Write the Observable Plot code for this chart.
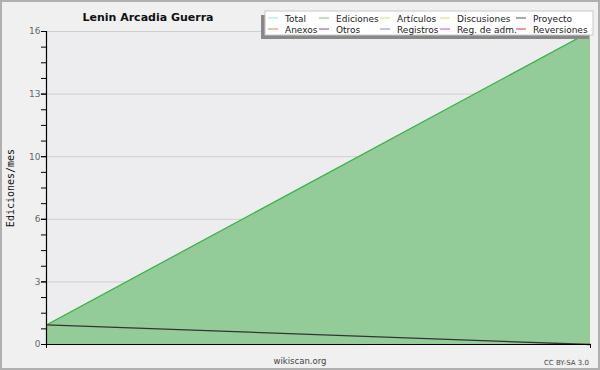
<!DOCTYPE html>
<html>
<head>
<meta charset="utf-8">
<script src="https://cdn.jsdelivr.net/npm/d3@7"></script>
<script src="https://cdn.jsdelivr.net/npm/@observablehq/plot@0.6"></script>
<style>
  html, body { margin: 0; padding: 0; background: #f0f0f0; }
</style>
</head>
<body>
<div id="chart"></div>
<script>
// Monthly edit counts
const meses = [1, 2];
const ediciones = [1, 16];
const proyecto = [1, 0];

// Y ticks: labelled every 3.2, minor every 0.8
const yMajor = [0, 3.2, 6.4, 9.6, 12.8, 16];
const yMinor = [0, 0.8, 1.6, 2.4, 3.2, 4, 4.8, 5.6, 6.4, 7.2, 8, 8.8, 9.6, 10.4, 11.2, 12, 12.8, 13.6, 14.4, 15.2, 16];

// Legend entries
const legendNames = ["Total", "Ediciones", "Artículos", "Discusiones", "Proyecto",
                     "Anexos", "Otros", "Registros", "Reg. de adm.", "Reversiones"];
const legendColors = ["#a6e0dc", "#7cc47f", "#c8e86a", "#f2d36a", "#555555",
                      "#f0834a", "#8a3fc4", "#7f86ee", "#d048e0", "#e8343a"];

const title = "Lenin Arcadia Guerra";
const yLabel = "Ediciones/mes";

const rows = meses.map((m, i) => ({mes: m, ediciones: ediciones[i], proyecto: proyecto[i]}));

const chart = Plot.plot({
  width: 600,
  height: 370,
  marginLeft: 46,
  marginRight: 10,
  marginTop: 31,
  marginBottom: 26,
  style: {background: "#f0f0f0", fontFamily: "DejaVu Sans", fontSize: "9px", color: "#555"},
  x: {domain: [1, 2], axis: null},
  y: {domain: [0, 16], axis: null},
  marks: [
    Plot.frame({fill: "#ededef", stroke: null}),
    Plot.gridY(yMajor.slice(1), {stroke: "#cfcfcf", strokeOpacity: 1}),
    Plot.areaY(rows, {x: "mes", y: "ediciones", fill: "#93cc99"}),
    Plot.lineY(rows, {x: "mes", y: "ediciones", stroke: "#3cb44a", strokeWidth: 1.2}),
    Plot.lineY(rows, {x: "mes", y: "proyecto", stroke: "#333", strokeWidth: 1.3}),
    Plot.axisY(yMinor, {tickSize: 5, tickFormat: () => "", stroke: "#000", label: null}),
    Plot.axisY(yMajor, {tickSize: 5, tickPadding: 1, tickFormat: d => Math.round(d), fill: "#666", stroke: "#000", fontSize: 9, label: null}),
    Plot.axisX(meses, {tickSize: 4, tickFormat: () => "", stroke: "#000", label: null}),
    Plot.ruleX([1], {stroke: "#000", strokeWidth: 1.2}),
    Plot.ruleY([0], {stroke: "#000", strokeWidth: 1.2})
  ]
});

document.getElementById("chart").append(chart);

const svg = d3.select(chart);

// outer border
svg.append("rect")
  .attr("x", 1).attr("y", 1).attr("width", 598).attr("height", 368)
  .attr("fill", "none").attr("stroke", "#b0b0b0").attr("stroke-width", 2);

// title
svg.append("text")
  .attr("x", 148).attr("y", 21)
  .attr("text-anchor", "middle")
  .attr("font-family", "DejaVu Sans").attr("font-weight", "bold").attr("font-size", 11)
  .attr("fill", "#111")
  .text(title);

// y label
svg.append("text")
  .attr("transform", "translate(14,188) rotate(-90)")
  .attr("text-anchor", "middle")
  .attr("font-family", "DejaVu Sans Mono").attr("font-size", 10)
  .attr("fill", "#111")
  .text(yLabel);

// footer texts
svg.append("text")
  .attr("x", 300).attr("y", 364)
  .attr("text-anchor", "middle")
  .attr("font-family", "DejaVu Sans").attr("font-size", 8.5)
  .attr("fill", "#444")
  .text("wikiscan.org");
svg.append("text")
  .attr("x", 589).attr("y", 365)
  .attr("text-anchor", "end")
  .attr("font-family", "DejaVu Sans").attr("font-size", 7)
  .attr("fill", "#444")
  .text("CC BY-SA 3.0");

// legend
const lg = svg.append("g");
lg.append("rect").attr("x", 261).attr("y", 15).attr("width", 328).attr("height", 24).attr("fill", "#888");
lg.append("rect").attr("x", 265).attr("y", 11).attr("width", 328).attr("height", 24)
  .attr("fill", "#fff").attr("stroke", "#c8c8c8");
const colX = [268, 319, 380, 440, 516];
legendNames.forEach((name, i) => {
  const cx = colX[i % 5];
  const cy = i < 5 ? 18 : 29;
  lg.append("line").attr("x1", cx).attr("x2", cx + 10).attr("y1", cy).attr("y2", cy)
    .attr("stroke", legendColors[i]).attr("stroke-width", 1);
  lg.append("text").attr("x", cx + 17).attr("y", cy + 3.5)
    .attr("text-anchor", "start")
    .attr("font-family", "DejaVu Sans").attr("font-size", 9).attr("fill", "#222")
    .text(name);
});
</script>
</body>
</html>
